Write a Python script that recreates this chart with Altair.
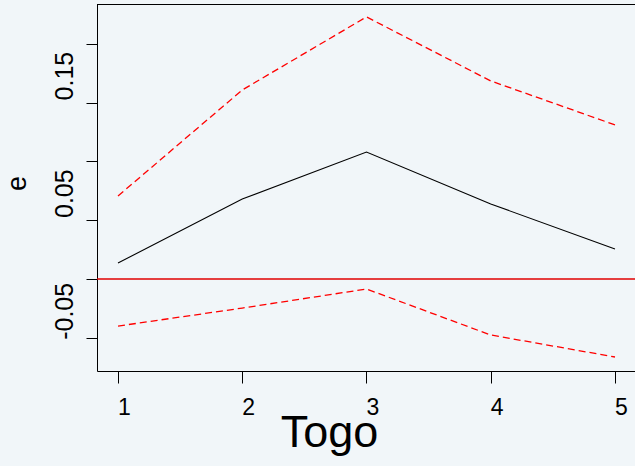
import altair as alt
import pandas as pd

# Impulse response of e over a 5-step horizon, with its confidence band
step = [1, 2, 3, 4, 5]
irf = [0.0136, 0.0680, 0.1080, 0.0638, 0.0255]
lower = [-0.0400, -0.0247, -0.0085, -0.0476, -0.0663]
upper = [0.0706, 0.1607, 0.2228, 0.1684, 0.1310]

y_ticks = [-0.05, 0.0, 0.05, 0.10, 0.15, 0.20]

W, H = 538, 367
BG = "#f1f6f9"
FONT = "Liberation Sans"

irf_df = pd.DataFrame({"step": step, "value": irf})
band_df = pd.concat([
    pd.DataFrame({"step": step, "value": lower, "bound": "lower"}),
    pd.DataFrame({"step": step, "value": upper, "bound": "upper"}),
])
zero_df = pd.DataFrame({"value": [0.0]})

x_scale = alt.Scale(domain=[0.831, 5.161], nice=False, zero=False)
y_scale = alt.Scale(domain=[-0.0782, 0.2338], nice=False, zero=False)

x_axis = alt.Axis(
    values=step, format="d", title="Togo",
    tickSize=12, tickColor="black", tickWidth=1,
    domain=True, domainColor="black", domainWidth=1,
    labelFontSize=23, labelPadding=13, labelOffset=6, labelColor="black",
    labelFont=FONT, grid=False,
    titleFont=FONT, titleFontSize=45, titleFontWeight="normal", titleColor="black",
    titleX=232, titleY=75, titleAlign="center", titleBaseline="alphabetic",
)

y_axis = alt.Axis(
    values=y_ticks, title="e",
    labelExpr="datum.value < -0.04 ? '-0.05' : (abs(datum.value - 0.05) < 0.001 ? '0.05' : (abs(datum.value - 0.15) < 0.001 ? '0.15' : ''))",
    tickSize=11, tickColor="black", tickWidth=1,
    domain=True, domainColor="black", domainWidth=1,
    labelAngle=270, labelAlign="center", labelBaseline="alphabetic",
    labelFontSize=25, labelPadding=14, labelOffset=-27, labelColor="black",
    labelFont=FONT, grid=False,
    titleFont=FONT, titleFontSize=27, titleFontWeight="normal", titleColor="black",
    titleAngle=270, titleX=-72, titleY=179, titleAlign="center",
    titleBaseline="alphabetic",
)

zero_line = alt.Chart(zero_df).mark_rule(color="#e00000", strokeWidth=1.3).encode(
    y=alt.Y("value:Q", scale=y_scale, axis=y_axis)
)

bands = alt.Chart(band_df).mark_line(
    color="red", strokeDash=[7, 4], strokeWidth=1.3
).encode(
    x=alt.X("step:Q", scale=x_scale, axis=x_axis),
    y=alt.Y("value:Q", scale=y_scale),
    detail="bound:N",
)

response = alt.Chart(irf_df).mark_line(color="black", strokeWidth=1.1).encode(
    x=alt.X("step:Q", scale=x_scale),
    y=alt.Y("value:Q", scale=y_scale),
)

# top edge of the plot frame
frame_top = alt.Chart(zero_df).mark_rule(color="black", strokeWidth=1).encode(
    x=alt.value(0), x2=alt.value(W), y=alt.value(0.5)
)

chart = (
    alt.layer(zero_line, bands, response, frame_top)
    .properties(
        width=W, height=H,
        autosize=alt.AutoSizeParams(type="none"),
        padding={"left": 97, "top": 4, "right": 0, "bottom": 95},
        background=BG,
    )
    .configure_view(stroke=None)
)

chart.save("out.html", embed_options={"renderer": "svg", "actions": False})
